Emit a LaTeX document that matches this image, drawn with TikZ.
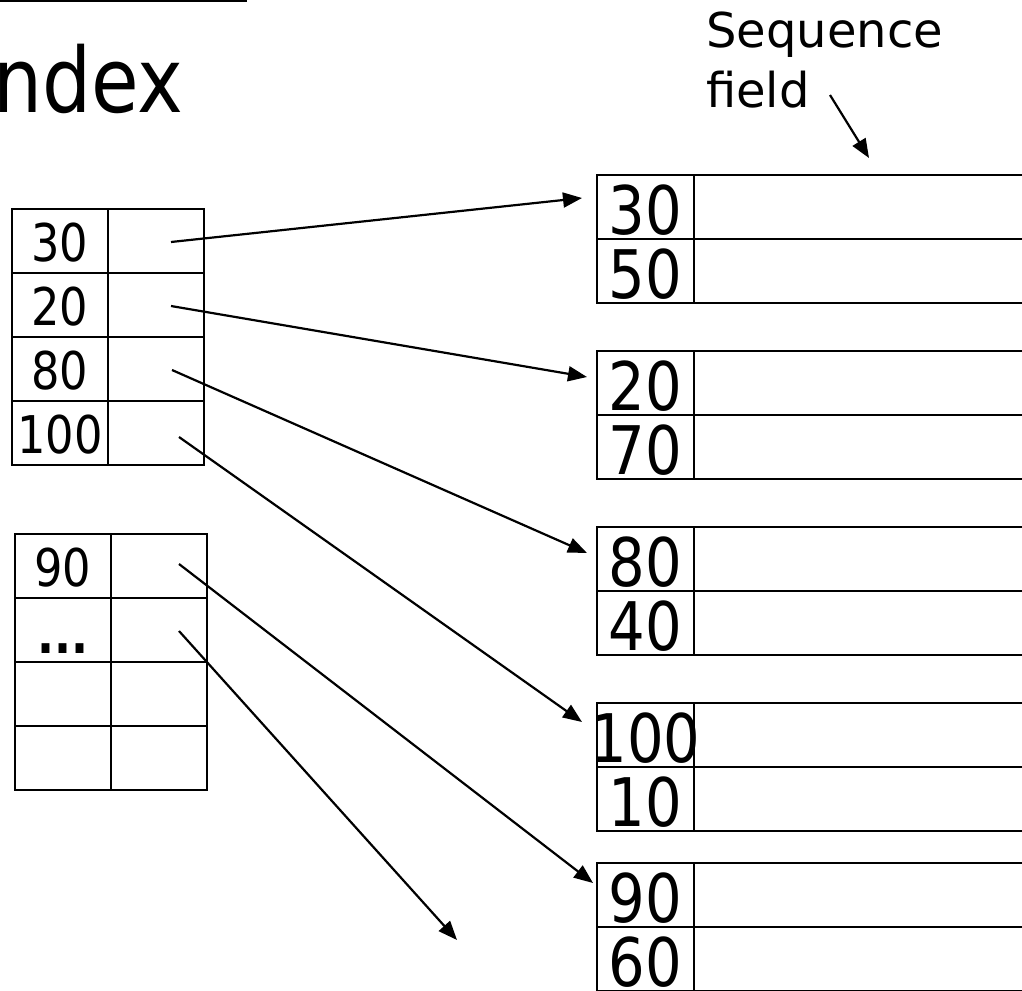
\documentclass[tikz,border=0pt]{standalone}
\usepackage{fontspec}
\setmainfont{DejaVu Sans}
\newfontfamily\tah[FakeStretch=0.86]{DejaVu Sans}
\usetikzlibrary{arrows.meta}
\begin{document}
\begin{tikzpicture}[x=1pt,y=-1pt,
  cell/.style={draw, line width=2.4pt, minimum height=64pt, inner sep=0pt, outer sep=0pt, anchor=north west},
  lnum/.style={inner sep=0pt, font=\tah\fontsize{52}{52}\selectfont, yshift=-2pt},
  rnum/.style={inner sep=0pt, font=\tah\fontsize{67}{67}\selectfont, yshift=-3pt},
  arr/.style={line width=2.2pt, -{Triangle[length=19pt,width=15pt]}}]
\useasboundingbox (0,0) rectangle (1022,990);
% top rule and title
\draw[line width=2.4pt] (0,0.5) -- (247,0.5);
\node[anchor=base west, inner sep=0pt, font=\tah\fontsize{90}{90}\selectfont] (title) at (-7,112) {ndex};
\node[anchor=base west, inner sep=0pt, align=left, font=\fontsize{48}{60}\selectfont] (seq) at (706,107) {Sequence\\field};
% left index block 1
\foreach \i/\y/\t in {1/209/30, 2/273/20, 3/337/80, 4/401/100}{
  \node[cell, minimum width=96pt] (ak\i) at (12,\y) {};
  \node[cell, minimum width=96pt] (ap\i) at (108,\y) {};
  \node[lnum] at (ak\i) {\t};
}
% left index block 2
\foreach \i/\y in {1/534, 2/598, 3/662, 4/726}{
  \node[cell, minimum width=96pt] (bk\i) at (15,\y) {};
  \node[cell, minimum width=96pt] (bp\i) at (111,\y) {};
}
\node[lnum] at (bk1) {90};
\node[lnum] at ([yshift=-3pt]bk2) {\vphantom{0}\textbf{...}};
% right data blocks
\foreach \j/\y/\a/\b in {1/175/30/50, 2/351/20/70, 3/527/80/40, 4/703/100/10, 5/863/90/60}{
  \node[cell, minimum width=97pt] (r\j k1) at (597,\y) {};
  \node[cell, minimum width=360pt] (r\j d1) at (694,\y) {};
  \node[cell, minimum width=97pt] (r\j k2) at (597,\y+64) {};
  \node[cell, minimum width=360pt] (r\j d2) at (694,\y+64) {};
  \node[rnum] at (r\j k1) {\a};
  \node[rnum] at (r\j k2) {\b};
}
% pointer coordinates
\coordinate (s1) at (171,242);
\coordinate (s2) at (171,306);
\coordinate (s3) at (172,370);
\coordinate (s4) at (179,437);
\coordinate (s5) at (179,564);
\coordinate (s6) at (179,631);
\coordinate (e1) at (582,198);
\coordinate (e2) at (587,377);
\coordinate (e3) at (587,553);
\coordinate (e4) at (582,722);
\coordinate (e5) at (593,883);
\coordinate (e6) at (457,940);
\coordinate (q1) at (830,95);
\coordinate (q2) at (869,158);
\draw[arr] (s1) -- (e1);
\draw[arr] (s2) -- (e2);
\draw[arr] (s3) -- (e3);
\draw[arr] (s4) -- (e4);
\draw[arr] (s5) -- (e5);
\draw[arr] (s6) -- (e6);
\draw[arr] (q1) -- (q2);
\end{tikzpicture}
\end{document}
